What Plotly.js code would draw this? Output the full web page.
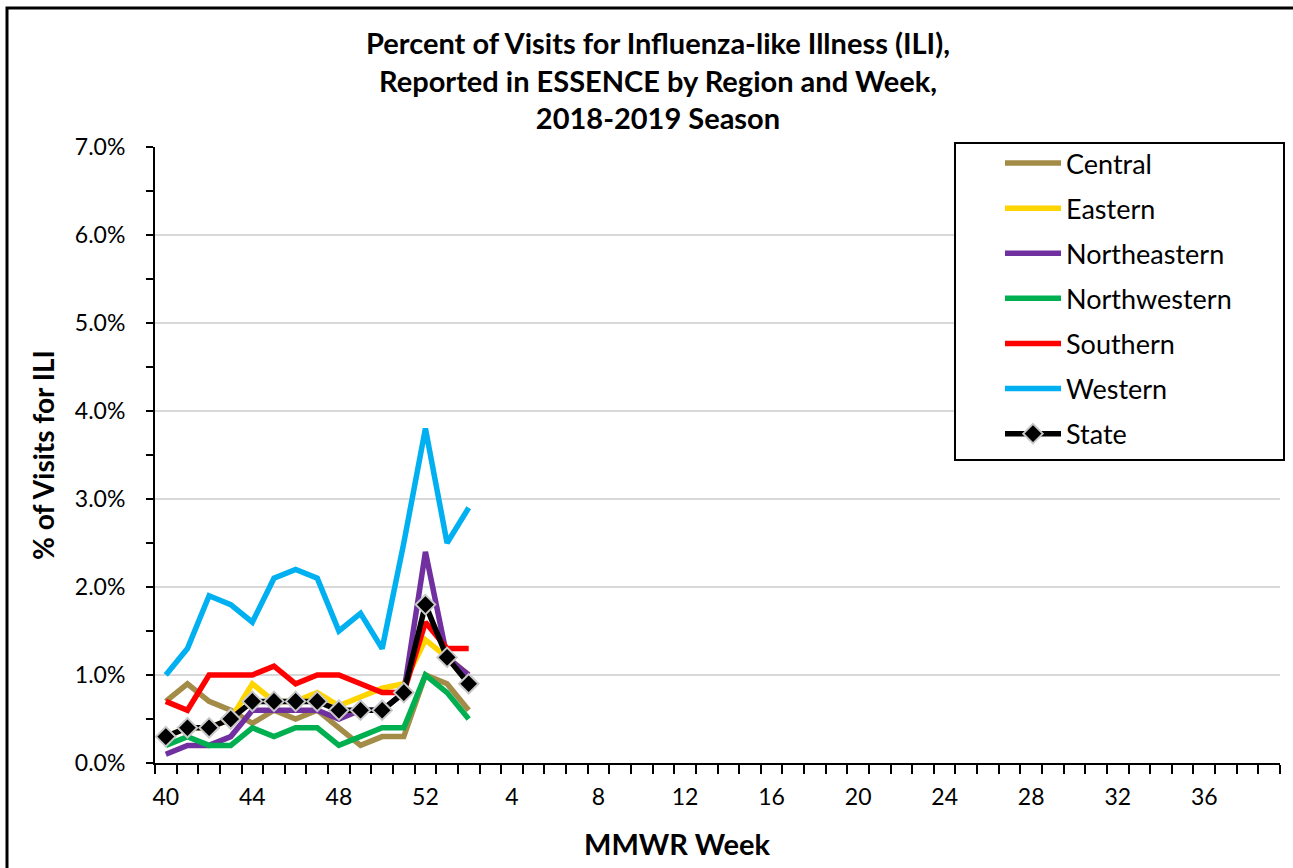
<!DOCTYPE html>
<html>
<head>
<meta charset="utf-8">
<script src="https://cdn.plot.ly/plotly-3.0.1.min.js"></script>
<style>html,body{margin:0;padding:0;background:#fff;}#chart{width:1293px;height:868px;}</style>
</head>
<body>
<div id="chart"></div>
<script>
// MMWR weeks of the 2018-2019 season (category axis)
var weeks = ['40','41','42','43','44','45','46','47','48','49','50','51','52',
  '1','2','3','4','5','6','7','8','9','10','11','12','13','14','15','16','17','18','19','20',
  '21','22','23','24','25','26','27','28','29','30','31','32','33','34','35','36','37','38','39'];
var reportedWeeks = ['40','41','42','43','44','45','46','47','48','49','50','51','52','1','2'];
var tickLabels = ['40','44','48','52','4','8','12','16','20','24','28','32','36'];

// % of visits for ILI
var central      = [0.7, 0.9, 0.7, 0.6, 0.45, 0.6, 0.5, 0.6, 0.4, 0.2, 0.3, 0.3, 1.0, 0.9, 0.6];
var eastern      = [0.3, 0.4, 0.4, 0.5, 0.9, 0.7, 0.7, 0.8, 0.65, 0.75, 0.85, 0.9, 1.4, 1.2, 1.0];
var northeastern = [0.1, 0.2, 0.2, 0.3, 0.6, 0.6, 0.6, 0.6, 0.5, 0.6, 0.6, 0.8, 2.4, 1.2, 1.0];
var northwestern = [0.2, 0.3, 0.2, 0.2, 0.4, 0.3, 0.4, 0.4, 0.2, 0.3, 0.4, 0.4, 1.0, 0.8, 0.5];
var southern     = [0.7, 0.6, 1.0, 1.0, 1.0, 1.1, 0.9, 1.0, 1.0, 0.9, 0.8, 0.8, 1.6, 1.3, 1.3];
var western      = [1.0, 1.3, 1.9, 1.8, 1.6, 2.1, 2.2, 2.1, 1.5, 1.7, 1.3, 2.5, 3.8, 2.5, 2.9];
var state        = [0.3, 0.4, 0.4, 0.5, 0.7, 0.7, 0.7, 0.7, 0.6, 0.6, 0.6, 0.8, 1.8, 1.2, 0.9];

var seriesNames  = ['Central','Eastern','Northeastern','Northwestern','Southern','Western'];
var seriesValues = [central, eastern, northeastern, northwestern, southern, western];
var seriesColors = ['#A38B48','#FFD500','#7030A0','#00B050','#FF0000','#00B0F0'];

var FONT = 'Lato, "Open Sans", sans-serif';

var traces = [{
  x: weeks, y: weeks.map(function(){return null;}),
  mode: 'lines', showlegend: false, hoverinfo: 'skip', line: {width: 0}
}];
seriesNames.forEach(function(n, i){
  traces.push({
    x: reportedWeeks, y: seriesValues[i], name: n, legendgroup: n,
    mode: 'lines', line: {color: seriesColors[i], width: 5.5}
  });
});
traces.push({
  x: reportedWeeks, y: state, name: 'State', legendgroup: 'State',
  mode: 'lines+markers', line: {color: '#000000', width: 5.5},
  marker: {symbol: 'diamond', size: 15, color: '#000000', line: {color: '#C8C8C8', width: 2}}
});

// tick text: label every 4th week
var tickText = weeks.map(function(w){ return tickLabels.indexOf(w) >= 0 ? w : ''; });

// helper: pixel -> paper
var L = 155, R = 1280, T = 147, B = 763;
function px(x){ return (x - L) / (R - L); }
function py(y){ return (B - y) / (B - T); }

var layout = {
  width: 1293, height: 868,
  margin: {l: L, r: 1293 - R, t: T, b: 868 - B},
  paper_bgcolor: '#ffffff', plot_bgcolor: '#ffffff',
  font: {family: FONT, color: '#000000', size: 22},
  title: {
    text: '<b>Percent of Visits for Influenza-like Illness (ILI),<br>Reported in ESSENCE by Region and Week,<br>2018-2019 Season</b>',
    font: {family: FONT, size: 29, color: '#000000'},
    xref: 'container', yref: 'container', x: 658/1293, xanchor: 'center',
    y: 1 - 54/868, yanchor: 'top'
  },
  xaxis: {
    type: 'category', categoryorder: 'array', categoryarray: weeks,
    range: [-0.5, weeks.length - 0.5],
    tickmode: 'array', tickvals: weeks, ticktext: tickText, tickangle: 0,
    tickson: 'boundaries', ticks: 'outside', ticklen: 9, tickwidth: 2, tickcolor: '#000',
    showline: true, linecolor: '#000', linewidth: 2, showgrid: false, zeroline: false,
    tickfont: {size: 23, family: FONT, color: '#000'}, ticklabelstandoff: 12,
    fixedrange: true
  },
  yaxis: {
    range: [0, 7], tickmode: 'linear', tick0: 0, dtick: 1,
    tickformat: '.1f', ticksuffix: '%',
    ticks: 'outside', ticklen: 7, tickwidth: 2, tickcolor: '#000',
    minor: {tickmode: 'linear', tick0: 0, dtick: 0.5, ticks: 'outside', ticklen: 7, tickwidth: 2, tickcolor: '#000', showgrid: false},
    showline: true, linecolor: '#000', linewidth: 2,
    showgrid: true, gridcolor: '#D9D9D9', gridwidth: 2, zeroline: false,
    tickfont: {size: 23, family: FONT, color: '#000'}, ticklabelstandoff: 16,
    title: {text: '<b>% of Visits for ILI</b>', font: {size: 28, family: FONT, color: '#000'}, standoff: 12},
    fixedrange: true
  },
  showlegend: true,
  legend: {
    x: px(1000), y: py(139), xanchor: 'left', yanchor: 'top',
    bgcolor: 'rgba(0,0,0,0)', borderwidth: 0,
    font: {size: 27, family: FONT, color: '#000'},
    tracegroupgap: 7, itemwidth: 56, traceorder: 'grouped'
  },
  annotations: [{
    text: '<b>MMWR Week</b>', xref: 'paper', yref: 'paper',
    x: px(677), y: py(843), xanchor: 'center', yanchor: 'middle',
    showarrow: false, font: {size: 29, family: FONT, color: '#000'}
  }],
  shapes: [
    {type: 'rect', xref: 'paper', yref: 'paper', x0: px(7), x1: px(1320), y0: py(900), y1: py(8),
     line: {color: '#000', width: 3}, fillcolor: 'rgba(0,0,0,0)', layer: 'below'},
    {type: 'rect', xref: 'paper', yref: 'paper', x0: px(955), x1: px(1284), y0: py(460), y1: py(143),
     line: {color: '#000', width: 2}, fillcolor: '#ffffff', layer: 'above'}
  ]
};

Plotly.newPlot('chart', traces, layout, {displayModeBar: false, staticPlot: true});
</script>
</body>
</html>
